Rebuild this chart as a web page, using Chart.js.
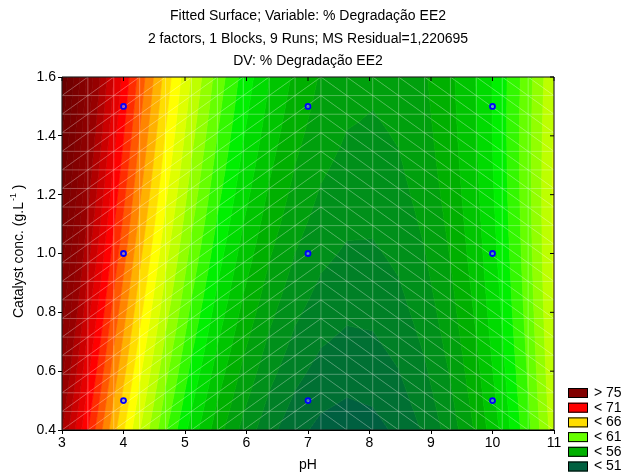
<!DOCTYPE html>
<html>
<head>
<meta charset="utf-8">
<script src="https://cdn.jsdelivr.net/npm/chart.js@4.4.1/dist/chart.umd.min.js"></script>
<style>
  html, body { margin: 0; padding: 0; background: #fff; }
  #wrap { width: 627px; height: 474px; }
</style>
</head>
<body>
<div id="wrap"><canvas id="surfaceChart" width="627" height="474"></canvas></div>
<script>
// 3x3 design: pH x catalyst concentration, response = % degradação EE2
const phLevels = [4, 7, 10];
const catalystLevels = [0.5, 1.0, 1.5];
// one row per catalyst level, one column per pH level
const degradation = [
  [65.6, 51.5, 56.7],   // 0.5 g/L
  [68.4, 53.5, 57.6],   // 1.0 g/L
  [70.3, 55.1, 58.0]    // 1.5 g/L
];

const phTicks = [3, 4, 5, 6, 7, 8, 9, 10, 11];
const catalystTicks = [0.4, 0.6, 0.8, 1.0, 1.2, 1.4, 1.6];

const titleLines = [
  'Fitted Surface; Variable: % Degradação EE2',
  '2 factors, 1 Blocks, 9 Runs; MS Residual=1,220695',
  'DV: % Degradação EE2'
];

// legend entries, top to bottom
const legendLabels = ['> 75', '< 71', '< 66', '< 61', '< 56', '< 51'];
const legendLevels = [75, 71, 66, 61, 56, 51];
const legendColors = ['#800000', '#ff0000', '#ffdd00', '#66ff00', '#00b000', '#006040'];

const FONT_FAMILY = '"Liberation Sans", Arial, sans-serif';
const FONT = { family: FONT_FAMILY, size: 14 };
const meshCells = 19;      // triangulation grid per axis
const contourStep = 1;     // spacing of the filled contour bands
const darkBands = 5;       // extra shading bands above the top legend level

const lowLevel = Math.min(...legendLevels), highLevel = Math.max(...legendLevels);
const contourLevels = [];
for (let v = lowLevel; v <= highLevel + darkBands + 1e-9; v += contourStep) contourLevels.push(v);

// colour ramp for the bands, anchored on the legend colours
const rampStops = [
  [51, [0, 96, 64]], [56, [0, 176, 0]], [59, [0, 240, 0]], [61, [102, 255, 0]],
  [63, [190, 255, 0]], [65, [255, 255, 0]], [66, [255, 221, 0]], [71, [255, 0, 0]],
  [75, [150, 0, 0]], [80, [105, 0, 0]]
];
function rampColor(v) {
  if (v <= rampStops[0][0]) return rampStops[0][1];
  for (let k = 1; k < rampStops.length; k++) {
    const [v1, c1] = rampStops[k];
    if (v <= v1) {
      const [v0, c0] = rampStops[k - 1];
      const t = (v - v0) / (v1 - v0);
      return c0.map((c, n) => Math.round(c + t * (c1[n] - c)));
    }
  }
  return rampStops[rampStops.length - 1][1];
}
function bandColor(k) {
  // band k lies below contourLevels[k]; the last one is open-ended
  const c = rampColor(contourLevels[Math.min(k, contourLevels.length - 1)]);
  return `rgb(${c[0]},${c[1]},${c[2]})`;
}
function bandIndex(z) {
  let k = 0;
  while (k < contourLevels.length && z >= contourLevels[k]) k++;
  return k;
}

// ---- response surface: least squares on coded factors ----
const phMid = (Math.min(...phLevels) + Math.max(...phLevels)) / 2;
const phHalf = (Math.max(...phLevels) - Math.min(...phLevels)) / 2;
const catMid = (Math.min(...catalystLevels) + Math.max(...catalystLevels)) / 2;
const catHalf = (Math.max(...catalystLevels) - Math.min(...catalystLevels)) / 2;

function terms(ph, cat) {
  const u = (ph - phMid) / phHalf, v = (cat - catMid) / catHalf;
  // 1, pH(L), pH(Q), cat(L), cat(Q), pH(L) by cat(L), pH(Q) by cat(L)
  return [1, u, u * u, v, v * v, u * v, u * u * v];
}

function solve(A, b) {
  const n = b.length;
  const M = A.map((row, i) => row.concat([b[i]]));
  for (let c = 0; c < n; c++) {
    let p = c;
    for (let r = c + 1; r < n; r++) if (Math.abs(M[r][c]) > Math.abs(M[p][c])) p = r;
    [M[c], M[p]] = [M[p], M[c]];
    for (let r = 0; r < n; r++) {
      if (r === c) continue;
      const f = M[r][c] / M[c][c];
      for (let k = c; k <= n; k++) M[r][k] -= f * M[c][k];
    }
  }
  return M.map((row, i) => row[n] / row[i]);
}

const coef = (() => {
  const rows = [], rhs = [];
  catalystLevels.forEach((cat, j) => phLevels.forEach((ph, i) => {
    rows.push(terms(ph, cat));
    rhs.push(degradation[j][i]);
  }));
  const p = rows[0].length;
  const AtA = Array.from({ length: p }, (_, a) =>
    Array.from({ length: p }, (_, b) => rows.reduce((s, r) => s + r[a] * r[b], 0)));
  const Atz = Array.from({ length: p }, (_, a) => rows.reduce((s, r, n) => s + r[a] * rhs[n], 0));
  return solve(AtA, Atz);
})();

function fitted(ph, cat) {
  return terms(ph, cat).reduce((s, t, k) => s + t * coef[k], 0);
}

// keep the part of a polygon on one side of a level (sign 1: z >= level, -1: z < level)
function clip(poly, level, sign) {
  const out = [];
  for (let k = 0; k < poly.length; k++) {
    const a = poly[k], b = poly[(k + 1) % poly.length];
    const ina = sign * (a.z - level) >= 0, inb = sign * (b.z - level) >= 0;
    if (ina) out.push(a);
    if (ina !== inb) {
      const t = (level - a.z) / (b.z - a.z);
      out.push({ px: a.px + t * (b.px - a.px), py: a.py + t * (b.py - a.py), z: level });
    }
  }
  return out;
}

const surfacePlugin = {
  id: 'surface',
  beforeDatasetsDraw(chart) {
    const { ctx, chartArea: area, scales: { x, y } } = chart;
    const nodes = [];
    for (let j = 0; j <= meshCells; j++) {
      const cat = y.min + (y.max - y.min) * j / meshCells;
      const row = [];
      for (let i = 0; i <= meshCells; i++) {
        const ph = x.min + (x.max - x.min) * i / meshCells;
        row.push({ px: x.getPixelForValue(ph), py: y.getPixelForValue(cat), z: fitted(ph, cat) });
      }
      nodes.push(row);
    }

    // split each cell in two triangles; left half leans "/", right half "\"
    const triangles = [];
    const diagonals = [];
    for (let j = 0; j < meshCells; j++) {
      for (let i = 0; i < meshCells; i++) {
        const a = nodes[j][i], b = nodes[j][i + 1], c = nodes[j + 1][i + 1], d = nodes[j + 1][i];
        if (i < Math.ceil(meshCells / 2)) {
          triangles.push([a, b, c], [a, c, d]);
          diagonals.push([a, c]);
        } else {
          triangles.push([a, b, d], [b, c, d]);
          diagonals.push([d, b]);
        }
      }
    }

    ctx.save();
    ctx.beginPath();
    ctx.rect(area.left, area.top, area.right - area.left, area.bottom - area.top);
    ctx.clip();
    ctx.lineJoin = 'round';
    ctx.lineWidth = 0.7;

    triangles.forEach(tri => {
      const zs = tri.map(p => p.z);
      const k0 = bandIndex(Math.min(...zs)), k1 = bandIndex(Math.max(...zs));
      for (let k = k0; k <= k1; k++) {
        let poly = tri;
        if (k > 0) poly = clip(poly, contourLevels[k - 1], 1);
        if (k < contourLevels.length && poly.length) poly = clip(poly, contourLevels[k], -1);
        if (poly.length < 3) continue;
        const col = bandColor(k);
        ctx.beginPath();
        poly.forEach((p, n) => n ? ctx.lineTo(p.px, p.py) : ctx.moveTo(p.px, p.py));
        ctx.closePath();
        ctx.fillStyle = col;
        ctx.strokeStyle = col;
        ctx.fill();
        ctx.stroke();
      }
    });

    // triangulation mesh
    ctx.strokeStyle = 'rgba(255,255,255,0.28)';
    ctx.lineWidth = 1;
    ctx.beginPath();
    for (let j = 0; j <= meshCells; j++) {
      ctx.moveTo(nodes[j][0].px, nodes[j][0].py);
      ctx.lineTo(nodes[j][meshCells].px, nodes[j][meshCells].py);
    }
    for (let i = 0; i <= meshCells; i++) {
      ctx.moveTo(nodes[0][i].px, nodes[0][i].py);
      ctx.lineTo(nodes[meshCells][i].px, nodes[meshCells][i].py);
    }
    diagonals.forEach(([p, q]) => { ctx.moveTo(p.px, p.py); ctx.lineTo(q.px, q.py); });
    ctx.stroke();
    ctx.restore();
  },

  afterDraw(chart) {
    const { ctx, chartArea: area, scales: { x, y } } = chart;
    ctx.save();
    // frame with inward ticks on top and right
    ctx.strokeStyle = '#000';
    ctx.lineWidth = 1;
    ctx.beginPath();
    ctx.rect(area.left, area.top, area.right - area.left, area.bottom - area.top);
    phTicks.forEach(v => {
      const px = x.getPixelForValue(v);
      ctx.moveTo(px, area.top);
      ctx.lineTo(px, area.top + 4);
    });
    catalystTicks.forEach(v => {
      const py = y.getPixelForValue(v);
      ctx.moveTo(area.right, py);
      ctx.lineTo(area.right - 4, py);
    });
    ctx.stroke();

    // title
    const cx = (area.left + area.right) / 2;
    ctx.fillStyle = '#000';
    ctx.font = `14px ${FONT_FAMILY}`;
    ctx.textAlign = 'center';
    ctx.textBaseline = 'middle';
    titleLines.forEach((line, n) => ctx.fillText(line, cx, 16.5 + n * 22.5));

    // y axis title with superscript unit
    ctx.save();
    ctx.translate(19, 318);
    ctx.rotate(-Math.PI / 2);
    ctx.textAlign = 'left';
    const main = 'Catalyst conc. (g.L';
    ctx.fillText(main, 0, 0);
    let w = ctx.measureText(main).width;
    ctx.font = `9px ${FONT_FAMILY}`;
    ctx.fillText('-1', w + 1, -5);
    w += ctx.measureText('-1').width + 1;
    ctx.font = `14px ${FONT_FAMILY}`;
    ctx.fillText(' )', w, 0);
    ctx.restore();

    // legend
    ctx.textAlign = 'left';
    legendLabels.forEach((label, n) => {
      const ty = 393 + n * 14.7;
      ctx.fillStyle = legendColors[n];
      ctx.fillRect(568, ty - 5, 20, 10);
      ctx.strokeStyle = '#000';
      ctx.strokeRect(568.5, ty - 4.5, 19, 9);
      ctx.fillStyle = '#000';
      ctx.fillText(label, 594, ty);
    });
    ctx.restore();
  }
};

const runPoints = [];
catalystLevels.forEach(cat => phLevels.forEach(ph => runPoints.push({ x: ph, y: cat })));

new Chart(document.getElementById('surfaceChart').getContext('2d'), {
  type: 'scatter',
  data: {
    datasets: [{
      label: 'Runs',
      data: runPoints,
      pointStyle: 'circle',
      pointRadius: 2.5,
      borderWidth: 1.8,
      borderColor: '#0000ff',
      backgroundColor: 'rgba(120,140,255,0.6)'
    }]
  },
  options: {
    responsive: false,
    animation: false,
    layout: { padding: { left: 0, right: 73, top: 77, bottom: 0 } },
    plugins: {
      legend: { display: false },
      tooltip: { enabled: false },
      title: { display: false }
    },
    scales: {
      x: {
        type: 'linear',
        min: phTicks[0],
        max: phTicks[phTicks.length - 1],
        afterBuildTicks: s => { s.ticks = phTicks.map(v => ({ value: v })); },
        afterFit: s => { s.height = 44; },
        ticks: { font: FONT, color: '#000', padding: 1, autoSkip: false, maxRotation: 0, callback: v => String(v) },
        grid: { drawOnChartArea: false, tickLength: 4, color: '#000' },
        border: { color: '#000' },
        title: { display: true, text: 'pH', font: FONT, color: '#000', padding: { top: 0, bottom: 0 } }
      },
      y: {
        type: 'linear',
        min: catalystTicks[0],
        max: catalystTicks[catalystTicks.length - 1],
        afterBuildTicks: s => { s.ticks = catalystTicks.map(v => ({ value: v })); },
        afterFit: s => { s.width = 62; },
        ticks: { font: FONT, color: '#000', padding: 2, autoSkip: false, callback: v => Number(v).toFixed(1) },
        grid: { drawOnChartArea: false, tickLength: 4, color: '#000' },
        border: { color: '#000' },
        title: { display: false }
      }
    }
  },
  plugins: [surfacePlugin]
});
</script>
</body>
</html>
